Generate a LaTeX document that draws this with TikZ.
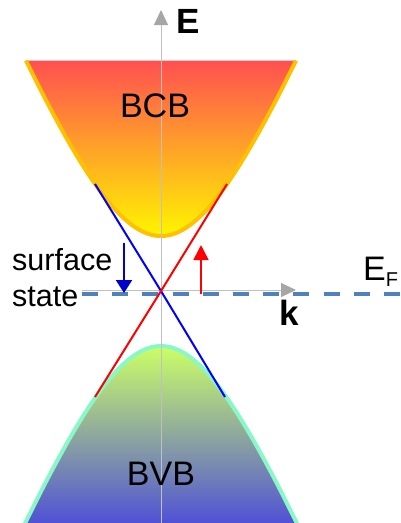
\documentclass[tikz,border=0pt]{standalone}
\usepackage{fontspec}
\setmainfont{Liberation Sans}
\usetikzlibrary{arrows.meta}
\definecolor{bcbtop}{HTML}{FF5050}
\definecolor{bcbmid}{HTML}{FF9A30}
\definecolor{bcbbot}{HTML}{FFF500}
\definecolor{bcbline}{HTML}{FFC000}
\definecolor{bvbtop}{HTML}{CCFF66}
\definecolor{bvbmid}{HTML}{8CA8A0}
\definecolor{bvbbot}{HTML}{4B4BD8}
\definecolor{bvbline}{HTML}{88F8C8}
\definecolor{axline}{HTML}{C0C0C0}
\definecolor{axhead}{HTML}{A6A6A6}
\definecolor{fermi}{HTML}{4F81BD}
\definecolor{sblue}{HTML}{0000FF}
\definecolor{sred}{HTML}{FF0000}
\definecolor{ablue}{HTML}{0000CC}
\tikzset{
  axis/.style={draw=axline, line width=1pt, -{Triangle[length=15pt,width=14pt,color=axhead]}},
  fermidash/.style={draw=fermi, line width=4pt, dash pattern=on 16pt off 14.2pt},
  dirac/.style={line width=2pt},
  lbl/.style={inner sep=0pt, font=\fontsize{30.5}{36}\selectfont},
  blbl/.style={inner sep=0pt, font=\fontsize{34}{36}\selectfont},
  bold/.style={inner sep=0pt, font=\fontsize{35}{40}\selectfont\bfseries},
}
\begin{document}
\begin{tikzpicture}[x=1pt,y=-1pt]
\useasboundingbox (0,0) rectangle (401,523);
\clip (0,0) rectangle (401,523);
% conduction band
\shade[top color=bcbtop, middle color=bcbmid, bottom color=bcbbot]
  plot[domain=-135:135,samples=90] ({161+\x},{236-230*(sqrt(1+(\x/93)^2)-1)}) -- cycle;
\draw[bcbline, line width=4pt]
  plot[domain=-135:135,samples=90] ({161+\x},{236-230*(sqrt(1+(\x/93)^2)-1)});
% valence band
\shade[top color=bvbtop, middle color=bvbmid, bottom color=bvbbot]
  plot[domain=-139:139,samples=90] ({161+\x},{346+230*(sqrt(1+(\x/93)^2)-1)}) -- cycle;
\draw[bvbline, line width=4pt]
  plot[domain=-139:139,samples=90] ({161+\x},{346+230*(sqrt(1+(\x/93)^2)-1)});
% coordinates
\coordinate (vb) at (161,523);
\coordinate (vt) at (161,10);
\coordinate (hl) at (82,290);
\coordinate (hr) at (296,290);
\coordinate (fl) at (82,293.5);
\coordinate (fr) at (402,293.5);
\coordinate (D) at (161,291);
\coordinate (bTL) at (95,184);
\coordinate (bBR) at (225,397);
\coordinate (rBL) at (95,397);
\coordinate (rTR) at (227,184);
\coordinate (ba1) at (124,243);
\coordinate (ba2) at (124,293);
\coordinate (ra1) at (201,294);
\coordinate (ra2) at (201,245);
% Fermi level
\draw[fermidash] (fl) -- (fr);
% axes
\draw[axis] (vb) -- (vt);
\draw[axis] (hl) -- (hr);
% surface state
\draw[dirac, sblue] (bTL) -- (D) -- (bBR);
\draw[dirac, sred] (rBL) -- (D) -- (rTR);
% arrows
\draw[ablue, line width=2pt, -{Triangle[length=13pt,width=16pt]}] (ba1) -- (ba2);
\draw[sred, line width=1.6pt, -{Triangle[length=15pt,width=15pt]}] (ra1) -- (ra2);
% labels
\node[bold, anchor=base west] (E) at (176,33) {E};
\node[bold, anchor=base] (k) at (289,325) {k};
\node[blbl] (BCB) at (155,106) {BCB};
\node[blbl] (BVB) at (161,474) {BVB};
\node[lbl, anchor=base west] (surf) at (12,270) {surface};
\node[lbl, anchor=base west] (state) at (12,306) {state};
\node[blbl, anchor=base west] (EF) at (363,280) {E\raisebox{-6pt}{\fontsize{20}{20}\selectfont F}};
\end{tikzpicture}
\end{document}
